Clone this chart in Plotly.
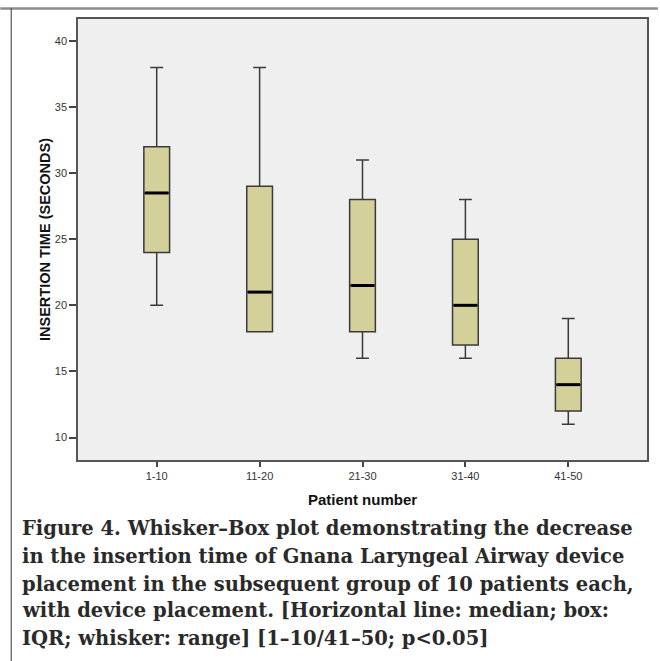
import plotly.graph_objects as go

categories = ["1-10", "11-20", "21-30", "31-40", "41-50"]
mins = [20, 18, 16, 16, 11]
q1s = [24, 18, 18, 17, 12]
medians = [28.5, 21, 21.5, 20, 14]
q3s = [32, 29, 28, 25, 16]
maxs = [38, 38, 31, 28, 19]
y_ticks = [10, 15, 20, 25, 30, 35, 40]
caption_lines = [
    "Figure 4. Whisker\u2013Box plot demonstrating the decrease",
    "in the insertion time of Gnana Laryngeal Airway device",
    "placement in the subsequent group of 10 patients each,",
    "with device placement. [Horizontal line: median; box:",
    "IQR; whisker: range] [1\u201310/41\u201350; p<0.05]",
]

W, H = 660, 661
ML, MR, MT, MB = 78, 11, 19, 201
PW = W - ML - MR
PH = H - MT - MB

xs = list(range(len(categories)))
box_w = 0.25

fig = go.Figure()
fig.add_trace(go.Box(
    x=xs, q1=q1s, median=medians, q3=q3s,
    lowerfence=mins, upperfence=maxs,
    width=box_w, whiskerwidth=0.5,
    fillcolor="#d4d09a",
    line=dict(color="#3a3a3a", width=1.5),
    boxpoints=False, showlegend=False, hoverinfo="skip",
))
# thicker median lines
mx, my = [], []
for x, m in zip(xs, medians):
    mx += [x - box_w / 2 + 0.01, x + box_w / 2 - 0.01, None]
    my += [m, m, None]
fig.add_trace(go.Scatter(x=mx, y=my, mode="lines",
                         line=dict(color="#000000", width=3),
                         showlegend=False, hoverinfo="skip"))

def px_to_paper_x(px):
    return (px - ML) / PW

def px_to_paper_y(py):
    return (H - MB - py) / PH

shapes = [
    dict(type="line", xref="paper", yref="paper",
         x0=px_to_paper_x(0), x1=px_to_paper_x(W),
         y0=px_to_paper_y(8.5), y1=px_to_paper_y(8.5),
         line=dict(color="#8c8c8c", width=2.5)),
    dict(type="line", xref="paper", yref="paper",
         x0=px_to_paper_x(11), x1=px_to_paper_x(11),
         y0=px_to_paper_y(8), y1=px_to_paper_y(H),
         line=dict(color="#555555", width=1.2)),
]

annotations = []
line_y = [528, 556, 584, 611, 638]
for txt, py in zip(caption_lines, line_y):
    annotations.append(dict(
        text=txt, xref="paper", yref="paper",
        x=px_to_paper_x(20), y=px_to_paper_y(py),
        xanchor="left", yanchor="middle", showarrow=False,
        font=dict(family="DejaVu Serif", size=19.5, color="#2a2a2a", weight="bold"),
    ))

fig.update_layout(
    width=W, height=H,
    margin=dict(l=ML, r=MR, t=MT, b=MB, pad=0),
    paper_bgcolor="white", plot_bgcolor="#efefef",
    shapes=shapes, annotations=annotations,
    font=dict(family="Liberation Sans, Arial", color="#333333"),
)
fig.update_xaxes(
    range=[-0.765, len(categories) - 1 + 0.765],
    tickvals=xs, ticktext=categories,
    ticks="outside", ticklen=5, tickwidth=1.5, tickcolor="#444",
    tickfont=dict(size=11, color="#333"),
    showline=True, linecolor="#555", linewidth=1.5, mirror=True,
    showgrid=False, zeroline=False,
    title=dict(text="Patient number", font=dict(size=15, color="#111", weight="bold"), standoff=14),
)
fig.update_yaxes(
    range=[8.3, 41.66],
    tickvals=y_ticks,
    ticks="outside", ticklen=7, tickwidth=1.5, tickcolor="#444",
    tickfont=dict(size=11, color="#333"),
    showline=True, linecolor="#555", linewidth=1.5, mirror=True,
    showgrid=False, zeroline=False,
    title=dict(text="INSERTION TIME (SECONDS)", font=dict(size=14.5, color="#111", weight="bold"), standoff=1),
)

fig.write_html("out.html", config={"displayModeBar": False},
               post_script="document.body.style.margin='0';document.body.style.padding='0';")
